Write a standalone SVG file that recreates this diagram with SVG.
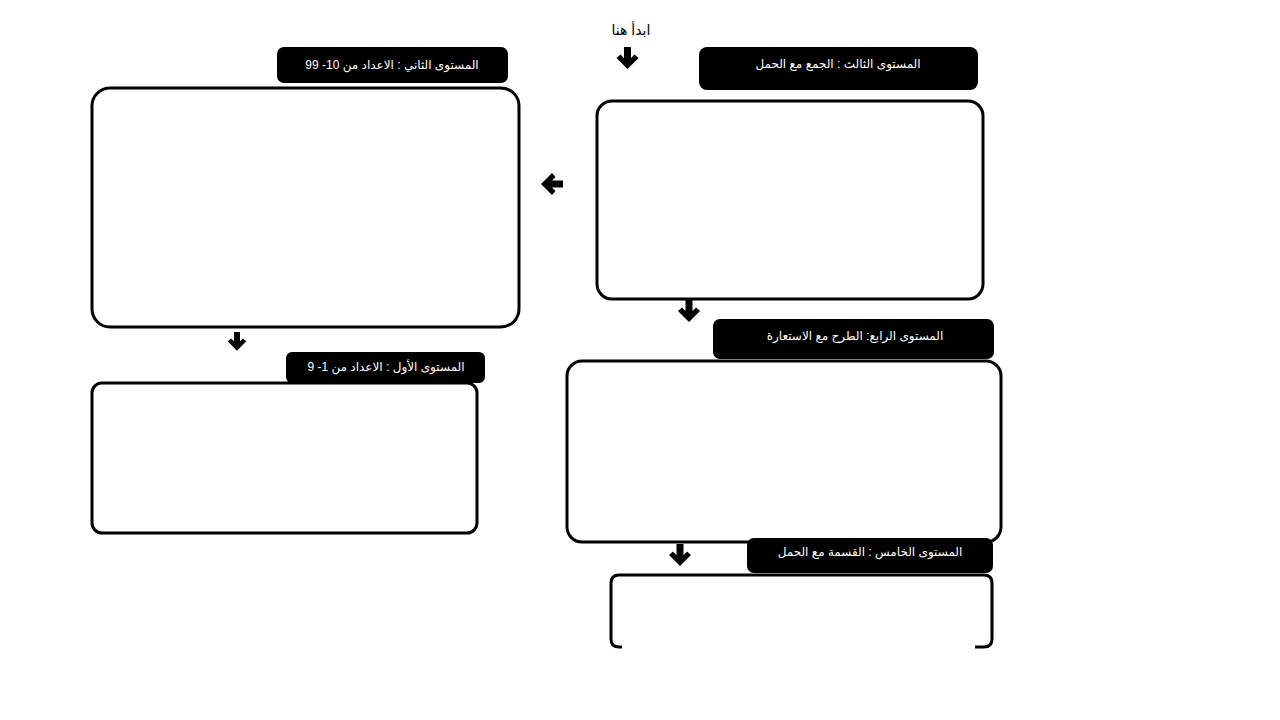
<svg xmlns="http://www.w3.org/2000/svg" width="1280" height="720" viewBox="0 0 1280 720">
<style>
.box{fill:#fff;stroke:#000;stroke-width:3}
.lab{fill:#000}
.lt{fill:#fff;font-family:"Liberation Sans","DejaVu Sans",sans-serif;font-size:12px;text-anchor:middle;direction:rtl}
</style>
<defs>
<path id="arrow" d="M-3.5 0 H3.5 V11 L7 7.5 L11 11 L0 22 L-11 11 L-7 7.5 L-3.5 11 Z" fill="#000"/>
</defs>
<rect width="1280" height="720" fill="#fff"/>
<text x="631" y="35" font-family="Liberation Sans, DejaVu Sans, sans-serif" font-size="14" text-anchor="middle" direction="rtl">ابدأ هنا</text>
<g id="level3">
<rect class="lab" x="699" y="47" width="279" height="43" rx="8"/>
<text class="lt" x="838" y="68">المستوى الثالث : الجمع مع الحمل</text>
<rect class="box" x="597" y="101" width="386" height="198" rx="15"/>
</g>
<g id="level2">
<rect class="lab" x="277" y="47" width="231" height="36" rx="7"/>
<text class="lt" x="392" y="69" font-size="13">المستوى الثاني : الاعداد من 10- 99</text>
<rect class="box" x="92" y="88" width="427" height="239" rx="18"/>
</g>
<g id="level4">
<rect class="lab" x="713" y="319" width="281" height="40" rx="7"/>
<text class="lt" x="855" y="340">المستوى الرابع: الطرح مع الاستعارة</text>
<rect class="box" x="567" y="361" width="434" height="181" rx="15"/>
</g>
<g id="level1">
<rect class="lab" x="286" y="352" width="199" height="31" rx="6"/>
<text class="lt" x="386" y="371" font-size="11">المستوى الأول : الاعداد من 1- 9</text>
<rect class="box" x="92" y="383" width="385" height="150" rx="10"/>
</g>
<g id="level5">
<rect class="lab" x="747" y="538" width="246" height="35" rx="7"/>
<text class="lt" x="870" y="556">المستوى الخامس : القسمة مع الحمل</text>
<path class="box" d="M622 647 H619 Q611 647 611 639 V583 Q611 575 619 575 H984 Q992 575 992 583 V639 Q992 647 984 647 H975"/>
</g>
<g id="connectors">
<use href="#arrow" transform="translate(627.5 47)"/>
<use href="#arrow" transform="translate(563 184) rotate(90)"/>
<use href="#arrow" transform="translate(689 300)"/>
<use href="#arrow" transform="translate(237 332) scale(0.85)"/>
<use href="#arrow" transform="translate(680 544)"/>
</g>
</svg>
